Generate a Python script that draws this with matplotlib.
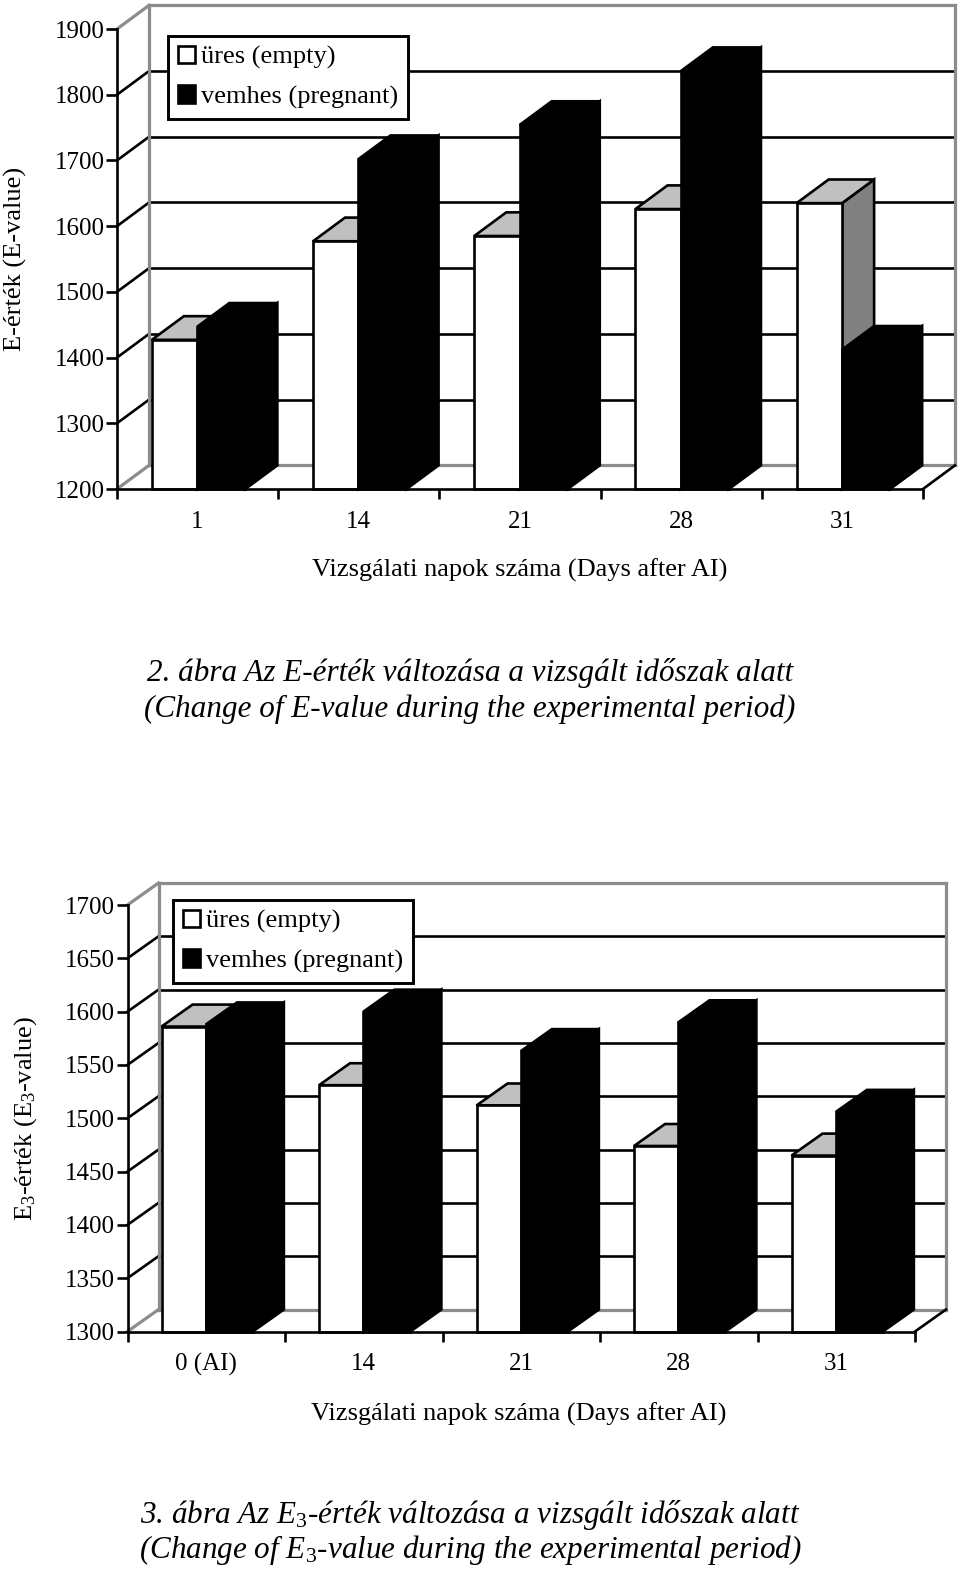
import matplotlib
matplotlib.use('Agg')
import matplotlib.pyplot as plt
from matplotlib.patches import Patch

plt.rcParams['font.family'] = ['Liberation Serif', 'DejaVu Serif']
plt.rcParams['mathtext.fontset'] = 'custom'
plt.rcParams['mathtext.rm'] = 'Liberation Serif'
plt.rcParams['mathtext.it'] = 'Liberation Serif:italic'

W, H = 960, 1570

# E-value chart
days1 = ['1', '14', '21', '28', '31']
empty1 = [1427, 1577, 1585, 1626, 1635]
pregnant1 = [1447, 1702, 1754, 1836, 1412]
yticks1 = [1200, 1300, 1400, 1500, 1600, 1700, 1800, 1900]

# E3-value chart
days2 = ['0 (AI)', '14', '21', '28', '31']
empty2 = [1586, 1531, 1512, 1474, 1465]
pregnant2 = [1588, 1600, 1563, 1590, 1506]
yticks2 = [1300, 1350, 1400, 1450, 1500, 1550, 1600, 1650, 1700]

legend_labels = ['üres (empty)', 'vemhes (pregnant)']
xlabel = 'Vizsgálati napok száma (Days after AI)'
LW = 1.9
GREY = '#8c8c8c'
FS = 18
FS_LABEL = 19


def draw_bar(ax, left, width, val, ymin, dx, dy, front, top, side):
    right = left + width
    ax.fill([right, right + dx, right + dx, right], [ymin, ymin + dy, val + dy, val],
            facecolor=side, edgecolor='black', lw=LW, clip_on=False, joinstyle='miter')
    ax.fill([left, right, right + dx, left + dx], [val, val, val + dy, val + dy],
            facecolor=top, edgecolor='black', lw=LW, clip_on=False, joinstyle='miter')
    ax.fill([left, right, right, left], [ymin, ymin, val, val],
            facecolor=front, edgecolor='black', lw=LW, clip_on=False, joinstyle='miter')


def make_chart(box, days, empty, pregnant, yticks, dx, dy, ylabel, ylabel_x, xlabel_xy, legend_xy):
    # box = front plane in pixels: left, right, top, bottom
    x0, x1, y0, y1 = box
    ax = fig.add_axes([x0 / W, 1 - y1 / H, (x1 - x0) / W, (y1 - y0) / H])
    ymin, ymax = yticks[0], yticks[-1]
    ax.set_xlim(0, len(days))
    ax.set_ylim(ymin, ymax)
    ax.patch.set_visible(False)

    # back wall and floor
    for v in yticks[1:-1]:
        ax.plot([dx, len(days) + dx], [v + dy, v + dy], color='black', lw=LW, clip_on=False, zorder=1)
        ax.plot([0, dx], [v, v + dy], color='black', lw=LW, clip_on=False, zorder=1)
    for v in (ymin, ymax):
        ax.plot([dx, len(days) + dx], [v + dy, v + dy], color=GREY, lw=LW + 0.4, clip_on=False, zorder=1)
        ax.plot([0, dx], [v, v + dy], color=GREY, lw=LW + 0.4, clip_on=False, zorder=1)
    for xx in (dx, len(days) + dx):
        ax.plot([xx, xx], [ymin + dy, ymax + dy], color=GREY, lw=LW + 0.4, clip_on=False, zorder=1)
    ax.plot([len(days), len(days) + dx], [ymin, ymin + dy], color='black', lw=LW, clip_on=False, zorder=1)

    for i in range(len(days)):
        start = i + 0.216
        draw_bar(ax, start, 0.282, empty[i], ymin, dx, dy, 'white', '#c0c0c0', '#808080')
        draw_bar(ax, start + 0.282, 0.298, pregnant[i], ymin, dx, dy, 'black', 'black', 'black')

    for s in ('top', 'right'):
        ax.spines[s].set_visible(False)
    for s in ('left', 'bottom'):
        ax.spines[s].set_linewidth(LW)
        ax.spines[s].set_zorder(5)

    ax.set_yticks(yticks)
    ax.tick_params(axis='y', length=8, width=LW, labelsize=FS, pad=1)
    ax.set_xticks(range(len(days) + 1))
    ax.set_xticklabels([])
    ax.set_xticks([i + 0.5 for i in range(len(days))], labels=days, minor=True)
    ax.tick_params(axis='x', which='major', length=7.5, width=LW)
    ax.tick_params(axis='x', which='minor', length=0, labelsize=FS, pad=15.5)

    handles = [Patch(facecolor='white', edgecolor='black', lw=LW),
               Patch(facecolor='black', edgecolor='black', lw=LW)]
    leg = ax.legend(handles, legend_labels, loc='upper left', fontsize=FS_LABEL,
                    bbox_to_anchor=(legend_xy[0] / W, 1 - legend_xy[1] / H),
                    bbox_transform=fig.transFigure, fancybox=False, framealpha=1,
                    edgecolor='black', borderaxespad=0, borderpad=0.38,
                    handlelength=0.64, handleheight=0.64, handletextpad=0.23, labelspacing=0.6)
    leg.get_frame().set_linewidth(LW + 0.2)
    leg.set_zorder(10)

    fig.text(ylabel_x / W, 1 - (y0 + y1) / 2 / H, ylabel, rotation=90, ha='center', va='center',
             fontsize=FS_LABEL)
    fig.text(xlabel_xy[0] / W, 1 - xlabel_xy[1] / H, xlabel, ha='center', va='center', fontsize=FS_LABEL)


fig = plt.figure(figsize=(W / 100, H / 100), dpi=100, facecolor='white')

make_chart((117, 923, 29, 489), days1, empty1, pregnant1, yticks1, 32 / 161, 36,
           'E-érték (E-value)', 15, (519.5, 570), (168, 36))
make_chart((127.5, 915, 905, 1331.5), days2, empty2, pregnant2, yticks2, 31 / 157.5, 20.6,
           r'E$_3$-érték (E$_3$-value)', 26, (519, 1414), (173, 900))

TS = 22.4
fig.text(470 / W, 1 - 673 / H, '2. ábra Az E-érték változása a vizsgált időszak alatt',
         ha='center', va='center', fontsize=TS, style='italic')
fig.text(470 / W, 1 - 709 / H, '(Change of E-value during the experimental period)',
         ha='center', va='center', fontsize=TS, style='italic')
fig.text(470 / W, 1 - 1514.5 / H, r'3. ábra Az E$_{\mathit{3}}$-érték változása a vizsgált időszak alatt',
         ha='center', va='center', fontsize=TS, style='italic')
fig.text(470 / W, 1 - 1550 / H, r'(Change of E$_{\mathit{3}}$-value during the experimental period)',
         ha='center', va='center', fontsize=TS, style='italic')

fig.savefig('out.png', dpi=100)
